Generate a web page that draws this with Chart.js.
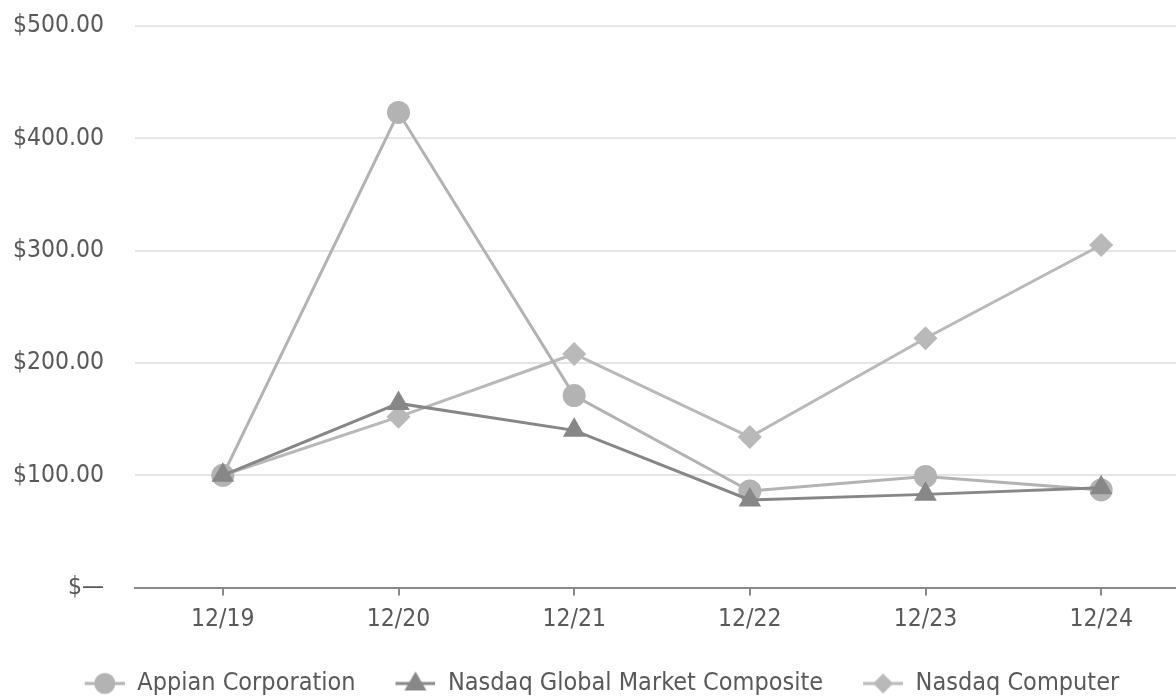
<!DOCTYPE html>
<html>
<head>
  <title>Cumulative Total Return</title>
  <script src="https://cdn.jsdelivr.net/npm/chart.js"></script>
  <style>
    body { margin: 0; overflow: hidden; background: #fff; }
    #wrap { position: relative; width: 1204px; height: 696px; }
  </style>
</head>
<body>
  <div id="wrap"><canvas id="myChart"></canvas></div>
  <script>
    // data
    const periods = ['12/19', '12/20', '12/21', '12/22', '12/23', '12/24'];
    const appian = [100, 423, 171, 86, 99, 87];
    const nasdaqGlobal = [100, 164, 140, 78, 83, 89];
    const nasdaqComputer = [100, 152, 208, 134, 222, 305];
    const yTickLabels = ['$—', '$100.00', '$200.00', '$300.00', '$400.00', '$500.00'];

    const FONT = "'DejaVu Sans Condensed', 'DejaVu Sans', sans-serif";
    const TEXT = '#595959';

    // little line + marker icons for the legend (12px blank on the left = extra gap)
    function legendIcon(color, style) {
      const c = document.createElement('canvas');
      c.width = 52; c.height = 26;
      const g = c.getContext('2d');
      g.strokeStyle = color; g.lineWidth = 3;
      g.beginPath(); g.moveTo(12, 13); g.lineTo(52, 13); g.stroke();
      g.fillStyle = color;
      g.beginPath();
      if (style === 'circle') {
        g.arc(32, 13, 10.5, 0, Math.PI * 2);
      } else if (style === 'triangle') {
        g.moveTo(32, 1); g.lineTo(43, 20); g.lineTo(21, 20); g.closePath();
      } else {
        g.moveTo(32, 3); g.lineTo(42, 13); g.lineTo(32, 23); g.lineTo(22, 13); g.closePath();
      }
      g.fill();
      return c;
    }

    const icons = [
      legendIcon('#b3b3b3', 'circle'),
      legendIcon('#878787', 'triangle'),
      legendIcon('#b9b9b9', 'diamond')
    ];

    // keep the legend box short
    const legendHeight = {
      id: 'legendHeight',
      beforeLayout(chart) {
        const lg = chart.legend;
        if (lg && !lg._fitPatched) {
          const orig = lg.fit;
          lg.fit = function () { orig.call(this); this.height = 53; };
          lg._fitPatched = true;
        }
      }
    };

    const ctx = document.getElementById('myChart').getContext('2d');
    const myChart = new Chart(ctx, {
      type: 'line',
      plugins: [legendHeight],
      data: {
        labels: periods,
        datasets: [
          {
            label: 'Appian Corporation',
            data: appian,
            borderColor: '#b3b3b3',
            backgroundColor: '#b3b3b3',
            borderWidth: 3,
            pointStyle: 'circle',
            pointRadius: 11.5,
            pointBorderWidth: 0,
            order: 2
          },
          {
            label: 'Nasdaq Global Market Composite',
            data: nasdaqGlobal,
            borderColor: '#878787',
            backgroundColor: '#878787',
            borderWidth: 3,
            pointStyle: 'triangle',
            pointRadius: 13,
            pointBorderWidth: 0,
            order: 1
          },
          {
            label: 'Nasdaq Computer',
            data: nasdaqComputer,
            borderColor: '#b9b9b9',
            backgroundColor: '#b9b9b9',
            borderWidth: 3,
            pointStyle: 'rectRot',
            pointRadius: 12,
            pointBorderWidth: 0,
            order: 3
          }
        ]
      },
      options: {
        responsive: true,
        maintainAspectRatio: false,
        animation: false,
        layout: { autoPadding: false, padding: { top: 26, left: 3, right: 15, bottom: 0 } },
        plugins: {
          tooltip: { enabled: false },
          legend: {
            position: 'bottom',
            labels: {
              usePointStyle: true,
              pointStyleWidth: 52,
              padding: 28,
              color: TEXT,
              font: { family: FONT, size: 25 },
              sort: (a, b) => a.datasetIndex - b.datasetIndex,
              generateLabels: (chart) => {
                const items = Chart.defaults.plugins.legend.labels.generateLabels(chart);
                items.forEach((it) => { it.pointStyle = icons[it.datasetIndex]; });
                return items;
              }
            }
          }
        },
        scales: {
          x: {
            offset: true,
            grid: { drawOnChartArea: false, offset: false, tickLength: 8, color: '#898989', lineWidth: 2 },
            border: { display: true, color: '#898989', width: 2 },
            ticks: { color: TEXT, padding: 9, font: { family: FONT, size: 24.5 } }
          },
          y: {
            min: 0,
            max: 500,
            afterFit: (scale) => {
              scale.width = 132;
              scale.paddingTop = 0;
              scale.paddingBottom = 0;
            },
            border: { display: false },
            grid: {
              drawTicks: false,
              lineWidth: 2,
              color: (c) => c.tick && c.tick.value === 0 ? 'rgba(0,0,0,0)' : '#e5e5e5'
            },
            ticks: {
              stepSize: 100,
              padding: 31,
              color: TEXT,
              font: { family: FONT, size: 24.5 },
              callback: (v) => yTickLabels[Math.round(v / 100)]
            }
          }
        }
      }
    });
  </script>
</body>
</html>
